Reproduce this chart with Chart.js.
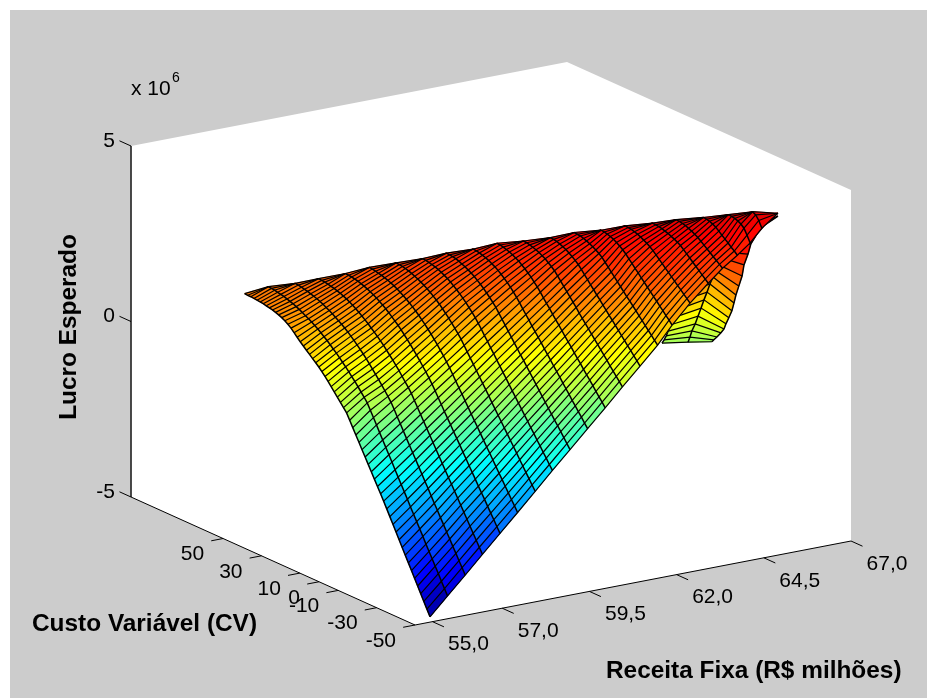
<!DOCTYPE html>
<html><head><meta charset="utf-8">
<style>html,body{margin:0;padding:0;background:#fff;overflow:hidden}
#bg{position:absolute;left:10px;top:10px;width:917px;height:688px;background:#ccc}
#c{position:absolute;left:0;top:0}</style>
<script src="https://cdn.jsdelivr.net/npm/chart.js@4"></script></head>
<body><div id="bg"></div><canvas id="c" width="927" height="698"></canvas>
<script>
// Receita Fixa (R$ milhões) of each long mesh line
const receita=[54.93,55.51,56.09,56.66,57.24,57.82,58.40,58.97,59.55,60.13,60.71,61.28,61.86,62.44,63.02,63.59,64.17,64.75,65.33,65.90,66.48,67.0];
// Custo Variável at the first node of each long mesh line, and its step along the line
const custoInicio=[-50,-48.62,-47.25,-45.87,-44.50,-43.12,-41.74,-40.37,-38.99,-37.62,-36.24,-34.86,-33.49,-32.11,-29.13,-28.10,-27.06,-23.95,-21.14,-17.44,-13.0,-11.96];
const custoPasso=1.61;
// Lucro Esperado in units of 10^4, one row per long mesh line
const lucro=[
[-485,-467,-449,-431,-413,-395,-377,-359,-341,-323,-305,-287,-269,-251,-233,-215,-198,-181,-164,-147,-130,-113,-96,-79,-62,-45,-28,-11,0,11,22,33,44,55,65,75,84,92,100,108,116,124,132,141,150,159,166,172,177,181,184,187,189,191,193,194,195,196,197,197,198],
[-440,-423,-406,-388,-371,-354,-337,-320,-302,-285,-268,-251,-234,-216,-199,-182,-165,-148,-130,-113,-96,-79,-62,-44,-27,-10,7,19,30,41,52,62,72,82,91,100,109,117,125,133,140,147,154,160,166,171,176,181,186,190,194,197,200,203,205,207,209,210,211],
[-395,-378,-362,-345,-329,-312,-296,-279,-263,-246,-230,-213,-196,-180,-163,-147,-130,-114,-97,-81,-64,-47,-31,-14,2,15,27,39,51,62,73,84,94,104,113,122,131,139,147,154,161,167,173,179,184,189,194,198,202,205,208,211,213,215,217,218],
[-350,-334,-318,-302,-286,-270,-254,-238,-222,-206,-190,-175,-159,-143,-127,-111,-95,-79,-63,-47,-31,-15,1,17,30,42,54,66,77,88,98,108,118,127,136,144,152,160,167,174,181,187,193,198,203,207,211,214,217,219,221,223,224,225],
[-305,-290,-274,-259,-244,-228,-213,-198,-182,-167,-152,-136,-121,-105,-90,-75,-59,-44,-29,-13,2,18,33,47,60,72,84,96,107,118,128,138,148,157,165,173,181,188,195,201,207,212,217,221,225,228,231,233,235,236,237],
[-260,-245,-231,-216,-201,-186,-172,-157,-142,-127,-113,-98,-83,-68,-54,-39,-24,-9,6,20,35,50,65,78,91,103,115,126,137,147,157,166,175,183,191,198,205,211,217,222,227,231,235,238,241,243,245,247,248],
[-214,-200,-186,-172,-158,-144,-129,-115,-101,-87,-73,-59,-45,-31,-17,-2,12,26,40,54,68,82,96,110,124,136,147,158,168,178,187,196,204,211,218,224,230,235,240,244,248,251,254,256,257,258],
[-169,-156,-142,-129,-115,-102,-88,-75,-61,-48,-34,-21,-7,6,20,34,47,61,74,88,101,115,128,142,155,167,178,188,198,207,215,223,230,237,243,248,253,257,260,263,265,267,268],
[-124,-111,-98,-85,-72,-60,-47,-34,-21,-8,5,18,31,44,57,70,82,95,108,121,134,147,160,173,186,196,206,215,224,232,239,246,252,257,262,266,270,273,275,276,277],
[-79,-67,-54,-42,-30,-18,-5,7,19,32,44,56,69,81,93,106,118,130,142,155,167,179,192,204,215,225,234,242,250,257,263,268,273,277,280,283,285,286],
[-34,-22,-11,1,13,25,36,48,60,71,83,95,106,118,130,142,153,165,177,188,200,212,223,233,243,251,259,266,273,278,283,287,290,293,295,296],
[11,22,33,44,55,67,78,89,100,111,122,133,144,155,166,178,189,200,211,222,233,244,255,263,270,277,282,287,291,294,297,299,300],
[56,67,77,88,98,109,119,130,140,151,161,172,182,193,203,214,224,235,245,256,266,274,281,287,293,297,301,304,306,307],
[101,111,121,131,141,151,161,171,181,191,200,210,220,230,240,250,260,270,280,287,293,298,303,307,310,313,314,315],
[140,150,159,169,178,188,197,207,216,226,235,245,254,264,273,283,291,298,304,309,313,316,318,319],
[189,198,206,215,223,232,240,249,257,266,274,283,291,298,304,309,314,318,321,324,325,326],
[232,240,248,256,264,272,280,288,296,304,309,314,318,322,325,328,330,331,332],
[256,263,270,277,284,291,298,305,312,317,322,326,330,332,334,335],
[275,283,290,298,305,312,320,327,332,336,338,339],
[290,308,324,332,337,340,342,343],
[310,328,340,345],
[340]
];
// Rear fold of the surface: three lines of constant Receita
const dobraReceita=[64.25,64.875,65.5];
const dobraCusto=[
[-1.5,-2.6,-3.7,-4.7,-5.7,-7.2,-8.9,-10.3,-12.0,-13.6,-15.1,-16.7,-18.2,-19.8,-21.3,-22.9,-24.5,-26.0],
[-3.7,-4.7,-5.7,-7.4,-8.9,-10.5,-12.0,-13.6,-15.1,-16.7,-18.3,-19.8,-21.4,-22.9,-24.5,-26.0,-27.7,-29.1],
[-4.8,-5.8,-7.4,-9.5,-11.1,-12.1,-13.6,-15.2,-16.3,-17.3,-18.8,-20.5,-21.5,-23.6,-25.1,-28.3,-32.4,-39.2]
];
const dobraLucro=[
[-3,9,23,39,59,83,109,136,163,189,216,243,266,290,311,329,347,363],
[-7,10,30,54,80,107,134,160,187,211,232,253,277,297,316,331,346,361],
[-15,-7,5,22,37,54,75,99,124,149,178,211,245,281,314,350,386,428]
];
const receitaTicks=[55,57,59.5,62,64.5,67];
const receitaLabels=["55,0","57,0","59,5","62,0","64,5","67,0"];
const custoTicks=[-50,-30,-10,0,10,30,50];
const custoLabels=["-50","-30","-10","0","10","30","50"];
const lucroTicks=[-5,0,5];
const lucroLabels=["-5","0","5"];
const receitaLim=[54.5,67], custoLim=[-50,98], lucroLim=[-500,500], corLim=[-500,430];

// orthographic view of the 3-D axes
const O=[415,625],EX=[436,-84],EY=[-284,-128],EZ=-351;
function proj(R,C,L){
  const u=(R-receitaLim[0])/(receitaLim[1]-receitaLim[0]),
        v=(C-custoLim[0])/(custoLim[1]-custoLim[0]),
        w=(L-lucroLim[0])/(lucroLim[1]-lucroLim[0]);
  return {x:O[0]+u*EX[0]+v*EY[0],y:O[1]+u*EX[1]+v*EY[1]+w*EZ};
}
function jet(f){
  f=Math.max(0,Math.min(1,f));
  const ch=t=>Math.round(255*Math.max(0,Math.min(1,1.5-Math.abs(4*t))));
  return `rgb(${ch(f-.75)},${ch(f-.5)},${ch(f-.25)})`;
}
const cor=z=>jet((z-corLim[0])/(corLim[1]-corLim[0]));
const ds=[];
function poly(pts,fill){ds.push({data:[...pts,pts[0]],showLine:true,fill:'shape',backgroundColor:fill,borderColor:fill,borderWidth:.8,pointRadius:0,tension:0});}
function line(pts,w,col){ds.push({data:pts,showLine:true,fill:false,borderColor:col||'#000',borderWidth:w,pointRadius:0,tension:0});}
const [R0,R1]=receitaLim,[C0,C1]=custoLim,[L0,L1]=lucroLim;
// axes box
poly([proj(R0,C1,L0),proj(R0,C1,L1),proj(R1,C1,L1),proj(R1,C0,L1),proj(R1,C0,L0),proj(R0,C0,L0)],'#fff');
ds[0].borderWidth=0;
line([proj(R0,C1,L1),proj(R0,C1,L0)],1,'#333');
line([proj(R0,C1,L0),proj(R0,C0,L0),proj(R1,C0,L0)],1);
receitaTicks.forEach(t=>line([proj(t,C0,L0),proj(t,C0-6,L0)],1));
custoTicks.forEach(t=>line([proj(R0,t,L0),proj(R0-.34,t,L0)],1));
lucroTicks.forEach(t=>line([proj(R0,C1,t*100),proj(R0,C1+6,t*100)],1));
// rear fold
const dp=(m,i)=>proj(dobraReceita[m],dobraCusto[m][i],dobraLucro[m][i]);
for(let m=0;m<2;m++)for(let i=0;i<17;i++){
  poly([dp(m,i),dp(m,i+1),dp(m+1,i+1),dp(m+1,i)],cor((dobraLucro[m][i]+dobraLucro[m][i+1]+dobraLucro[m+1][i]+dobraLucro[m+1][i+1])/4));
}
for(let i=0;i<18;i++)line([dp(0,i),dp(1,i),dp(2,i)],1.2);
for(let m=0;m<3;m++)line(dobraCusto[m].map((_,i)=>dp(m,i)),1.5);
// main sheet
const np=(k,n)=>proj(receita[k],custoInicio[k]+n*custoPasso,lucro[k][n]);
for(let k=0;k<receita.length-1;k++){
  const N=lucro[k].length-1,M=lucro[k+1].length-1;
  for(let n=0;n<N;n++){
    const a=Math.min(n,M),b=Math.min(n+1,M);
    poly([np(k,n),np(k,n+1),np(k+1,b),np(k+1,a)],cor((lucro[k][n]+lucro[k][n+1]+lucro[k+1][a]+lucro[k+1][b])/4));
  }
}
for(let n=0;n<lucro[0].length;n++){
  const p=[];
  for(let k=0;k<receita.length;k++){
    const M=lucro[k].length-1;
    if(M>=n)p.push(np(k,n));else{p.push(np(k,M));break;}
  }
  line(p,1.2);
}
for(let k=0;k<receita.length;k++){if(lucro[k].length>1)line(lucro[k].map((_,n)=>np(k,n)),1.5);}
ds.forEach((d,i)=>{d.order=-i;d.clip=false;});

const F='"Liberation Sans"';
const textos={
  id:'textos',
  afterDraw(ch){
    const c=ch.ctx,sx=ch.scales.x,sy=ch.scales.y;
    const px=(p,dx,dy)=>[sx.getPixelForValue(p.x)+dx,sy.getPixelForValue(p.y)+dy];
    c.save();c.fillStyle='#000';c.textBaseline='middle';
    c.font='21px '+F;
    c.textAlign='center';
    receitaTicks.forEach((t,i)=>{const q=px(proj(t,C0,L0),36,23);c.fillText(receitaLabels[i],q[0],q[1]);});
    c.textAlign='right';
    custoTicks.forEach((t,i)=>{const q=px(proj(R0,t,L0),-19,16);c.fillText(custoLabels[i],q[0],q[1]);});
    lucroTicks.forEach((t,i)=>{const q=px(proj(R0,C1,t*100),-16,-5);c.fillText(lucroLabels[i],q[0],q[1]);});
    c.textAlign='left';
    c.fillText('x 10',131,89);
    c.font='14px '+F;c.fillText('6',172,78);
    c.font='bold 24.4px '+F;
    c.fillText('Receita Fixa (R$ milhões)',606,671);
    c.fillText('Custo Variável (CV)',32,624);
    c.translate(69,327);c.rotate(-Math.PI/2);c.textAlign='center';
    c.fillText('Lucro Esperado',0,0);
    c.restore();
  }
};
new Chart(document.getElementById('c'),{
  type:'scatter',
  data:{datasets:ds},
  options:{responsive:false,animation:false,events:[],
    layout:{padding:0},
    plugins:{legend:{display:false},tooltip:{enabled:false},title:{display:false}},
    scales:{x:{type:'linear',min:0,max:927,display:false},y:{type:'linear',min:0,max:698,reverse:true,display:false}}
  },
  plugins:[textos]
});
</script></body></html>
